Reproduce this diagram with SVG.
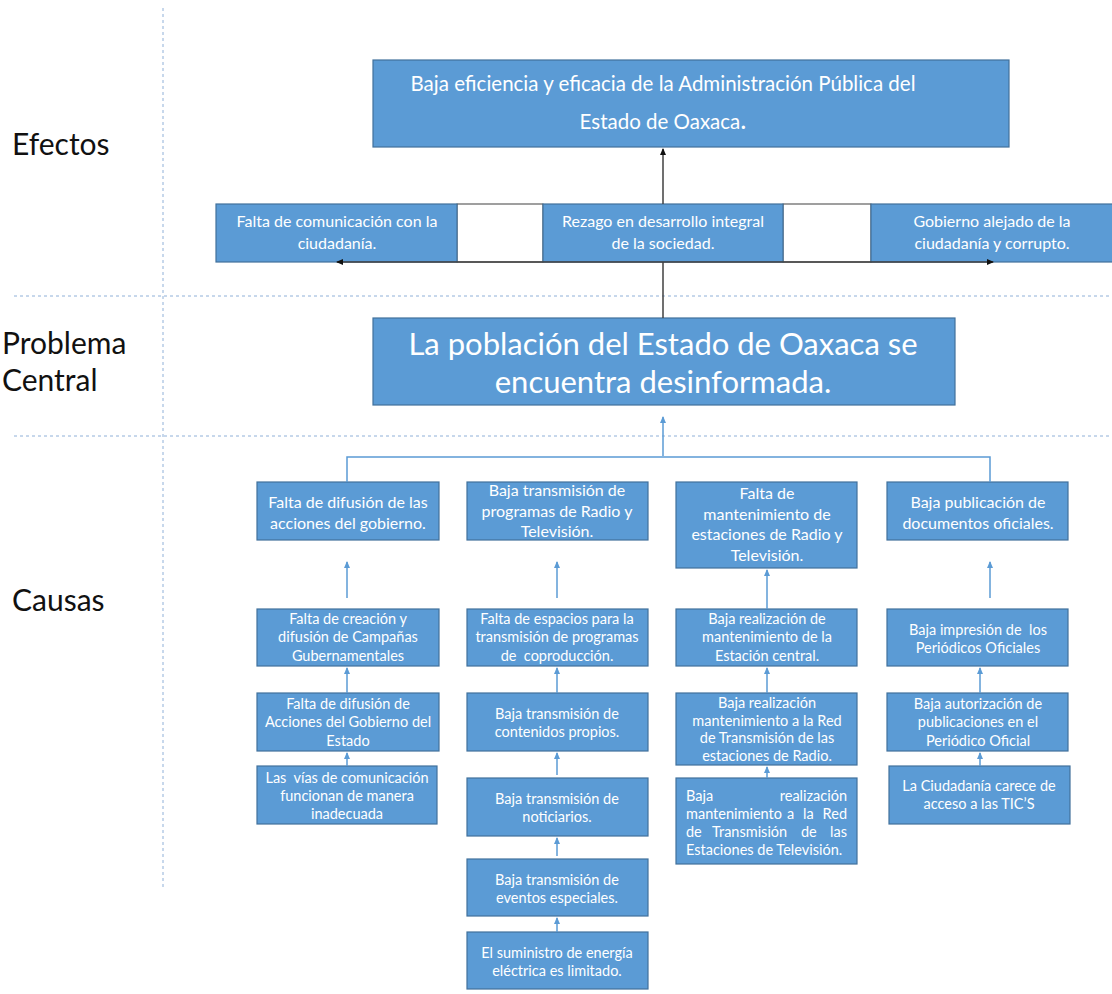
<svg xmlns="http://www.w3.org/2000/svg" width="1112" height="994" viewBox="0 0 1112 994">
<defs>
<style>
.box{fill:#5b9bd5;stroke:#41719c;stroke-width:1.2}
.gap{fill:#ffffff;stroke:#404040;stroke-width:1}
.t{font-family:Lato,"Open Sans","Liberation Sans",sans-serif;fill:#ffffff;text-anchor:middle;white-space:pre}
.j{font-family:Lato,"Open Sans","Liberation Sans",sans-serif;fill:#ffffff;font-size:14.5px}
.je{font-family:Lato,"Open Sans","Liberation Sans",sans-serif;fill:#ffffff;font-size:14.5px;text-anchor:end}
.lab{font-family:Lato,"Open Sans","Liberation Sans",sans-serif;fill:#111111;font-size:30px}
.dash{stroke:#8fb0d8;stroke-width:1;stroke-dasharray:3,3;fill:none}
.blk{stroke:#404040;stroke-width:1.5;fill:none}
.blu{stroke:#5b9bd5;stroke-width:1.5;fill:none}
.f17{font-size:20.5px}
.f14{font-size:16px}
.f30{font-size:31px}
.f15{font-size:16px}
.f12{font-size:14.5px}
</style>
<marker id="ab" markerWidth="8" markerHeight="8" refX="6" refY="4" orient="auto" markerUnits="userSpaceOnUse"><path d="M0,1 L7,4 L0,7 z" fill="#111"/></marker>
<marker id="au" markerWidth="8" markerHeight="8" refX="6" refY="4" orient="auto" markerUnits="userSpaceOnUse"><path d="M0,1 L7,4 L0,7 z" fill="#5b9bd5"/></marker>
</defs>
<rect width="1112" height="994" fill="#ffffff"/>

<g id="guides">
<line class="dash" x1="163" y1="8" x2="163" y2="890"/>
<line class="dash" x1="14" y1="296" x2="1112" y2="296"/>
<line class="dash" x1="14" y1="436" x2="1112" y2="436"/>
</g>

<g id="labels">
<text class="lab" x="12" y="155">Efectos</text>
<text class="lab" x="2" y="354">Problema</text>
<text class="lab" x="2" y="391">Central</text>
<text class="lab" x="12" y="611">Causas</text>
</g>

<g id="gaps">
<rect class="gap" x="457" y="204" width="86" height="58"/>
<rect class="gap" x="783" y="204" width="88" height="58"/>
</g>

<g id="efecto-principal">
<rect class="box" x="373" y="60" width="636" height="87"/>
<text class="t f17" x="663" y="91">Baja eficiencia y eficacia de la Administración Pública del</text>
<text class="t f17" x="663" y="129">Estado de Oaxaca<tspan font-size="26px">.</tspan></text>
</g>

<g id="efecto-1">
<rect class="box" x="216" y="204" width="241" height="58"/>
<text class="t f14" x="337" y="227">Falta de comunicación con la</text>
<text class="t f14" x="337" y="249">ciudadanía.</text>
</g>
<g id="efecto-2">
<rect class="box" x="543" y="204" width="240" height="58"/>
<text class="t f14" x="663" y="227">Rezago en desarrollo integral</text>
<text class="t f14" x="663" y="249">de la sociedad.</text>
</g>
<g id="efecto-3">
<rect class="box" x="871" y="204" width="245" height="58"/>
<text class="t f14" x="992" y="227">Gobierno alejado de la</text>
<text class="t f14" x="992" y="249">ciudadanía y corrupto.</text>
</g>

<g id="problema-central">
<rect class="box" x="373" y="318" width="582" height="87"/>
<text class="t f30" x="663" y="355">La población del Estado de Oaxaca se</text>
<text class="t f30" x="663" y="393">encuentra desinformada.</text>
</g>

<g id="causa-a">
<rect class="box" x="257" y="482" width="182" height="58"/>
<text class="t f15" x="348" y="508">Falta de difusión de las</text>
<text class="t f15" x="348" y="529">acciones del gobierno.</text>
</g>
<g id="causa-b">
<rect class="box" x="467" y="482" width="181" height="58"/>
<text class="t f15" x="557" y="496">Baja transmisión de</text>
<text class="t f15" x="557" y="517">programas de Radio y</text>
<text class="t f15" x="557" y="537">Televisión.</text>
</g>
<g id="causa-c">
<rect class="box" x="676" y="482" width="181" height="86"/>
<text class="t f15" x="767" y="499">Falta de</text>
<text class="t f15" x="767" y="520">mantenimiento de</text>
<text class="t f15" x="767" y="540">estaciones de Radio y</text>
<text class="t f15" x="767" y="561">Televisión.</text>
</g>
<g id="causa-d">
<rect class="box" x="887" y="482" width="181" height="58"/>
<text class="t f15" x="978" y="508">Baja publicación de</text>
<text class="t f15" x="978" y="529">documentos oficiales.</text>
</g>

<g id="a2">
<rect class="box" x="257" y="609" width="182" height="57"/>
<text class="t f12" x="348" y="624">Falta de creación y</text>
<text class="t f12" x="348" y="642">difusión de Campañas</text>
<text class="t f12" x="348" y="661">Gubernamentales</text>
</g>
<g id="a3">
<rect class="box" x="257" y="693" width="182" height="58"/>
<text class="t f12" x="348" y="709">Falta de difusión de</text>
<text class="t f12" x="348" y="727">Acciones del Gobierno del</text>
<text class="t f12" x="348" y="746">Estado</text>
</g>
<g id="a4">
<rect class="box" x="257" y="766" width="180" height="58"/>
<text class="t f12" x="347" y="783">Las  vías de comunicación</text>
<text class="t f12" x="347" y="801">funcionan de manera</text>
<text class="t f12" x="347" y="819">inadecuada</text>
</g>

<g id="b2">
<rect class="box" x="467" y="609" width="181" height="57"/>
<text class="t f12" x="557" y="624">Falta de espacios para la</text>
<text class="t f12" x="557" y="642">transmisión de programas</text>
<text class="t f12" x="557" y="661">de  coproducción.</text>
</g>
<g id="b3">
<rect class="box" x="467" y="693" width="181" height="58"/>
<text class="t f12" x="557" y="719">Baja transmisión de</text>
<text class="t f12" x="557" y="737">contenidos propios.</text>
</g>
<g id="b4">
<rect class="box" x="467" y="778" width="181" height="58"/>
<text class="t f12" x="557" y="804">Baja transmisión de</text>
<text class="t f12" x="557" y="822">noticiarios.</text>
</g>
<g id="b5">
<rect class="box" x="467" y="859" width="181" height="57"/>
<text class="t f12" x="557" y="885">Baja transmisión de</text>
<text class="t f12" x="557" y="903">eventos especiales.</text>
</g>
<g id="b6">
<rect class="box" x="467" y="932" width="181" height="57"/>
<text class="t f12" x="557" y="958">El suministro de energía</text>
<text class="t f12" x="557" y="976">eléctrica es limitado.</text>
</g>

<g id="c2">
<rect class="box" x="676" y="609" width="181" height="57"/>
<text class="t f12" x="767" y="624">Baja realización de</text>
<text class="t f12" x="767" y="642">mantenimiento de la</text>
<text class="t f12" x="767" y="661">Estación central.</text>
</g>
<g id="c3">
<rect class="box" x="676" y="693" width="181" height="72"/>
<text class="t f12" x="767" y="708">Baja realización</text>
<text class="t f12" x="767" y="726">mantenimiento a la Red</text>
<text class="t f12" x="767" y="743">de Transmisión de las</text>
<text class="t f12" x="767" y="761">estaciones de Radio.</text>
</g>
<g id="c4">
<rect class="box" x="676" y="778" width="181" height="86"/>
<text class="j" x="686" y="801">Baja</text>
<text class="je" x="847" y="801">realización</text>
<text class="j" x="686" y="819">mantenimiento</text>
<text class="j" x="787" y="819">a</text>
<text class="j" x="803" y="819">la</text>
<text class="je" x="847" y="819">Red</text>
<text class="j" x="686" y="837">de</text>
<text class="j" x="712" y="837">Transmisión</text>
<text class="j" x="801" y="837">de</text>
<text class="je" x="847" y="837">las</text>
<text class="j" x="686" y="855">Estaciones de Televisión.</text>
</g>

<g id="d2">
<rect class="box" x="887" y="609" width="181" height="57"/>
<text class="t f12" x="978" y="635">Baja impresión de  los</text>
<text class="t f12" x="978" y="653">Periódicos Oficiales</text>
</g>
<g id="d3">
<rect class="box" x="887" y="693" width="181" height="58"/>
<text class="t f12" x="978" y="709">Baja autorización de</text>
<text class="t f12" x="978" y="727">publicaciones en el</text>
<text class="t f12" x="978" y="746">Periódico Oficial</text>
</g>
<g id="d4">
<rect class="box" x="889" y="766" width="181" height="58"/>
<text class="t f12" x="979" y="791">La Ciudadanía carece de</text>
<text class="t f12" x="979" y="809">acceso a las TIC’S</text>
</g>

<g id="connectors">
<line class="blk" x1="663" y1="204" x2="663" y2="149" marker-end="url(#ab)"/>
<line class="blk" x1="663" y1="262" x2="663" y2="318"/>
<line class="blk" x1="663" y1="262" x2="337" y2="262" marker-end="url(#ab)"/>
<line class="blk" x1="663" y1="262" x2="993" y2="262" marker-end="url(#ab)"/>
<line class="blu" x1="663" y1="456" x2="663" y2="417" marker-end="url(#au)"/>
<polyline class="blu" points="347,482 347,457 990,457 990,482"/>
<line class="blu" x1="347" y1="598" x2="347" y2="562" marker-end="url(#au)"/>
<line class="blu" x1="557" y1="598" x2="557" y2="562" marker-end="url(#au)"/>
<line class="blu" x1="767" y1="609" x2="767" y2="570" marker-end="url(#au)"/>
<line class="blu" x1="990" y1="598" x2="990" y2="562" marker-end="url(#au)"/>
<line class="blu" x1="347" y1="693" x2="347" y2="668" marker-end="url(#au)"/>
<line class="blu" x1="347" y1="766" x2="347" y2="753" marker-end="url(#au)"/>
<line class="blu" x1="557" y1="693" x2="557" y2="668" marker-end="url(#au)"/>
<line class="blu" x1="557" y1="775" x2="557" y2="753" marker-end="url(#au)"/>
<line class="blu" x1="557" y1="856" x2="557" y2="838" marker-end="url(#au)"/>
<line class="blu" x1="557" y1="932" x2="557" y2="918" marker-end="url(#au)"/>
<line class="blu" x1="767" y1="693" x2="767" y2="668" marker-end="url(#au)"/>
<line class="blu" x1="767" y1="778" x2="767" y2="767" marker-end="url(#au)"/>
<line class="blu" x1="980" y1="693" x2="980" y2="668" marker-end="url(#au)"/>
<line class="blu" x1="980" y1="766" x2="980" y2="753" marker-end="url(#au)"/>
</g>
</svg>
